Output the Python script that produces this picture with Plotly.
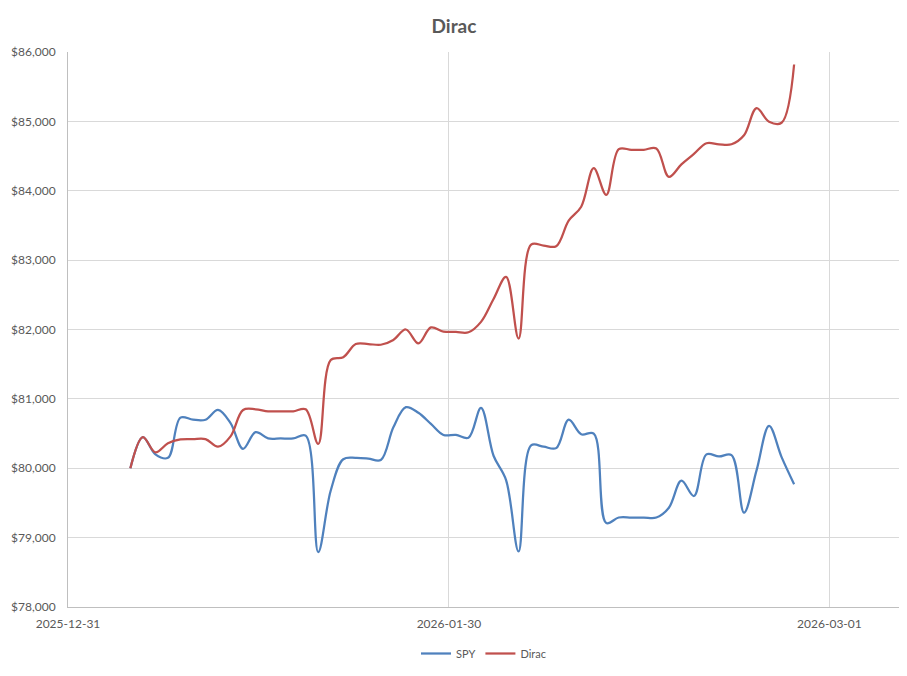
import pandas as pd
import plotly.graph_objects as go

# daily values, weekends carry the Friday close
dates = pd.date_range("2026-01-05", "2026-02-27", freq="D")

spy = [80000, 80450, 80200, 80150, 80730, 80700, 80700, 80840, 80650, 80280,
       80520, 80430, 80430, 80430, 80470, 78790, 79680, 80130, 80150, 80140,
       80120, 80590, 80880, 80800, 80640, 80480, 80480, 80440, 80870, 80180,
       79830, 78800, 80330, 80310, 80290, 80700, 80490, 80500, 79210, 79290,
       79290, 79290, 79290, 79430, 79820, 79600, 80200, 80170, 80190, 79360,
       79970, 80610, 80160, 79770]

dirac = [80000, 80450, 80230, 80360, 80415, 80420, 80420, 80310, 80460, 80840,
         80850, 80820, 80820, 80820, 80850, 80350, 81560, 81600, 81790, 81790,
         81780, 81850, 82000, 81800, 82030, 81970, 81965, 81960, 82110, 82440,
         82760, 81870, 83225, 83210, 83200, 83570, 83770, 84325, 83940, 84600,
         84590, 84590, 84610, 84200, 84380, 84530, 84685, 84670, 84670, 84800,
         85190, 84995, 84980, 85820]

# where the source chart put its 30-day gridlines
tick_dates = ["2025-12-31 00:30", "2026-01-30 10:30", "2026-03-01 19:40"]
tick_labels = ["2025-12-31", "2026-01-30", "2026-03-01"]

FONT = "Lato"
GREY = "#595959"

# page body adds an 8px margin all round; keep the figure inside the window
W, H = 891, 660

fig = go.Figure()
fig.add_trace(go.Scatter(x=dates, y=spy, name="SPY", mode="lines",
                         line=dict(color="#4F81BD", width=2.25, shape="spline", smoothing=1)))
fig.add_trace(go.Scatter(x=dates, y=dirac, name="Dirac", mode="lines",
                         line=dict(color="#C0504D", width=2.25, shape="spline", smoothing=1)))

fig.update_layout(
    width=W, height=H,
    margin=dict(l=60, r=0, t=44, b=60),
    plot_bgcolor="white", paper_bgcolor="white",
    font=dict(family=FONT, size=12, color=GREY),
    title=dict(text="<b>Dirac</b>", x=(454 - 8) / W, xref="container", xanchor="center",
               y=1 - 18 / H, yanchor="middle",
               font=dict(family=FONT, size=19, color=GREY)),
    showlegend=True,
    legend=dict(orientation="h", x=0.5, xanchor="center", y=-0.058, yanchor="top",
                font=dict(size=11, color=GREY)),
)

fig.update_xaxes(
    type="date", range=[tick_dates[0], "2026-03-07 09:00"],
    tickvals=tick_dates, ticktext=tick_labels,
    showgrid=True, gridcolor="#D9D9D9", gridwidth=1,
    showline=True, linecolor="#BFBFBF", linewidth=1,
    ticks="", ticklabelstandoff=6, tickfont=dict(size=12, color=GREY),
)
fig.update_yaxes(
    range=[78000, 86000], dtick=1000, tickformat="$,.0f",
    showgrid=True, gridcolor="#D9D9D9", gridwidth=1,
    showline=True, linecolor="#BFBFBF", linewidth=1,
    zeroline=False, ticks="", ticklabelstandoff=9, tickfont=dict(size=12, color=GREY),
)

fig.write_html("out.html")
